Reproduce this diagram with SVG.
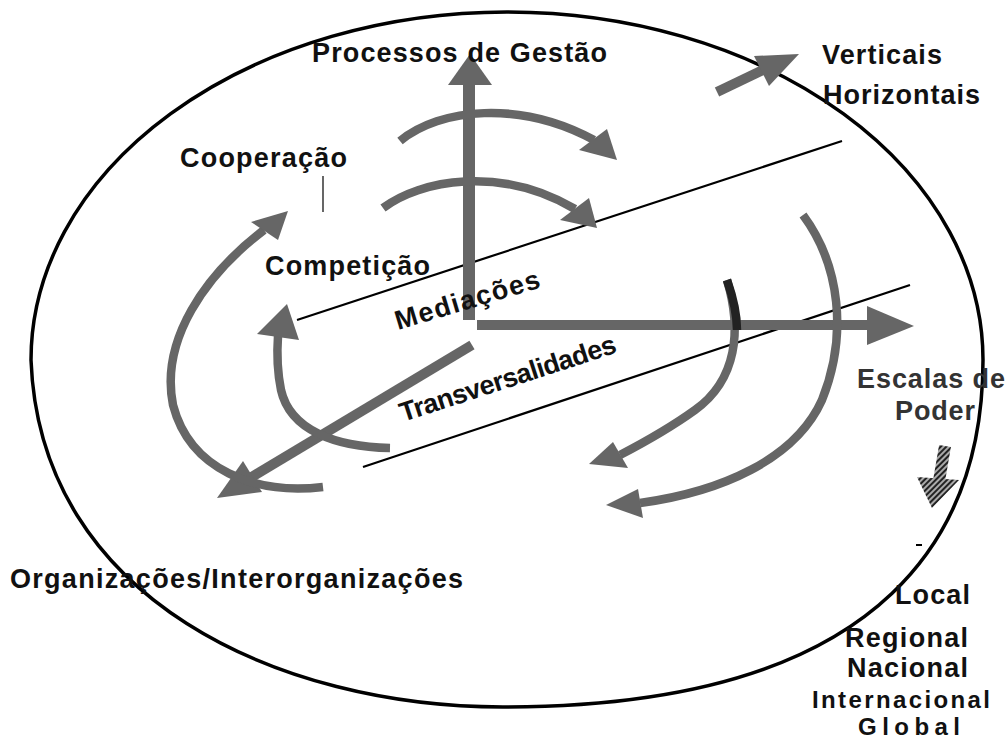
<svg xmlns="http://www.w3.org/2000/svg" width="1007" height="740" viewBox="0 0 1007 740">
<defs>
<pattern id="hatch" patternUnits="userSpaceOnUse" width="4" height="4" patternTransform="rotate(45)">
<rect width="4" height="4" fill="#aaa"/>
<rect width="2" height="4" fill="#222"/>
</pattern>
<style>
.t{font-family:"Liberation Sans",Arial,Helvetica,sans-serif;font-weight:bold;font-size:27px;fill:#111}
.s{font-size:24px}
.e{fill:#333}
.arc{fill:none;stroke:#666;stroke-width:8.5;stroke-linecap:butt}
.sh{stroke:#666;stroke-width:10;fill:none}
.hd{fill:#666}
.ln{stroke:#000;stroke-width:2.2;fill:none}
.frame{fill:none;stroke:#000;stroke-width:3.5}
</style>
</defs>
<rect width="1007" height="740" fill="#fff"/>
<path class="frame" d="M31,360 A476,348 0 0 1 983,360 C983,520 900,707 503,707 C280,707 40,600 31,360 Z"/>
<g id="connectors">
<line class="ln" x1="297" y1="320" x2="842" y2="141"/>
<line class="ln" x1="363" y1="467" x2="910" y2="285"/>
<line x1="323" y1="176" x2="323" y2="212" stroke="#000" stroke-width="1.2"/>
<line x1="916" y1="545" x2="922" y2="545" stroke="#000" stroke-width="2"/>
<rect x="463" y="80" width="12" height="240" class="hd"/>
<polygon class="hd" points="470,54 448,85 492,85"/>
<rect x="477" y="320" width="395" height="10" class="hd"/>
<polygon class="hd" points="914,326 867,306 867,345"/>
<line class="sh" x1="472" y1="345" x2="250" y2="478"/>
<polygon class="hd" points="217,498 262,492 243,461"/>
<line class="sh" x1="717" y1="92" x2="765" y2="69"/>
<polygon class="hd" points="799,54 769,86 754,56"/>
<line x1="945" y1="446" x2="939" y2="481" stroke="url(#hatch)" stroke-width="12"/>
<polygon fill="url(#hatch)" points="917,477 959,480 932,508"/>
<path class="arc" d="M400,141 C440,108 520,100 594,140"/>
<polygon class="hd" points="617,160 607,129 579,150"/>
<path class="arc" d="M383,208 C420,180 500,165 575,209"/>
<polygon class="hd" points="597,228 589,198 560,220"/>
<path class="arc" d="M323,487 C255,495 190,470 173,405 C160,340 205,275 264,230"/>
<polygon class="hd" points="288,211 251,222 278,240"/>
<path class="arc" d="M390,448 C335,447 290,430 281,390 C277,370 277,350 278,336"/>
<polygon class="hd" points="287,304 257,334 299,340"/>
<path class="arc" d="M727,280 C742,330 737,380 695,410 C670,428 645,442 620,455"/>
<path d="M727,280 C734,300 737,315 737,330" fill="none" stroke="#222" stroke-width="8.5"/>
<polygon class="hd" points="589,464 613,442 628,468"/>
<path class="arc" d="M803,215 C840,265 848,335 822,400 C795,460 720,492 640,503"/>
<polygon class="hd" points="606,505 638,489 643,518"/>
</g>
<g id="n-processos"><text class="t" x="312" y="62" textLength="295" lengthAdjust="spacing">Processos de Gestão</text></g>
<g id="n-verticais"><text class="t" x="822" y="64" textLength="120" lengthAdjust="spacing">Verticais</text>
<text class="t" x="823" y="104" textLength="157" lengthAdjust="spacing">Horizontais</text></g>
<g id="n-cooperacao"><text class="t" x="180" y="167" textLength="167" lengthAdjust="spacing">Cooperação</text></g>
<g id="n-competicao"><text class="t" x="265" y="275" textLength="165" lengthAdjust="spacing">Competição</text></g>
<g id="n-mediacoes"><text class="t" transform="translate(398,330) rotate(-16.6)" x="0" y="0" textLength="150" lengthAdjust="spacing">Mediações</text></g>
<g id="n-transversalidades"><text class="t" transform="translate(403,422) rotate(-18)" x="0" y="0" textLength="226" lengthAdjust="spacing">Transversalidades</text></g>
<g id="n-escalas"><text class="t e" x="857" y="388" textLength="148" lengthAdjust="spacing">Escalas de</text>
<text class="t e" x="895" y="420" textLength="80" lengthAdjust="spacing">Poder</text></g>
<g id="n-organizacoes"><text class="t" x="10" y="588" textLength="453" lengthAdjust="spacing">Organizações/Interorganizações</text></g>
<g id="n-escalas-lista">
<text class="t" x="895" y="604" textLength="75" lengthAdjust="spacing">Local</text>
<text class="t" x="845" y="647" textLength="123" lengthAdjust="spacing">Regional</text>
<text class="t" x="847" y="677" textLength="121" lengthAdjust="spacing">Nacional</text>
<text class="t s" x="812" y="708" textLength="178" lengthAdjust="spacing">Internacional</text>
<text class="t s" x="858" y="735" textLength="102" lengthAdjust="spacing">Global</text>
</g>
</svg>
